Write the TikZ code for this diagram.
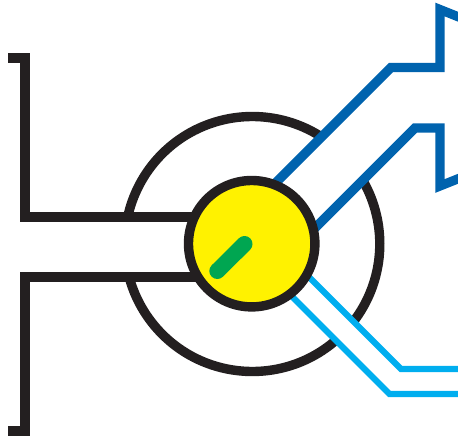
\documentclass[tikz,border=0pt]{standalone}
\definecolor{inkblack}{HTML}{231F20}
\definecolor{deepblue}{HTML}{0063AE}
\definecolor{skyblue}{HTML}{00AEEF}
\definecolor{dotyellow}{HTML}{FFF200}
\definecolor{leafgreen}{HTML}{00A651}
\tikzset{
  blackline/.style={draw=inkblack,line width=9.4pt,miter limit=10},
  blueline/.style={draw=deepblue,line width=9.2pt,miter limit=10},
  skyline/.style={draw=skyblue,line width=6.2pt,miter limit=10},
  hub/.style={draw=inkblack,fill=dotyellow,line width=9.4pt},
  pointer/.style={draw=leafgreen,line width=16pt,line cap=round}
}
\begin{document}
\begin{tikzpicture}[x=1pt,y=-1pt]
\useasboundingbox (0,0) rectangle (458,441);
\clip (0,0) rectangle (458,441);
\coordinate (c) at (252.3,244);
% big ring, broken where the outlines cross it
\draw[blackline] (c) ++(-167.7:127.5) arc[start angle=-167.7,end angle=-57,radius=127.5];
\draw[blackline] (c) ++(-30:127.5) arc[start angle=-30,end angle=38,radius=127.5];
\draw[blackline] (c) ++(49.5:127.5) arc[start angle=49.5,end angle=164.9,radius=127.5];
% left bracket
\draw[blackline] (8,58) -- (25,58) -- (25,217) -- (200,217);
\draw[blackline] (8,431) -- (25,431) -- (25,277) -- (200,277);
% dark blue outline
\draw[blueline] (260,198.5) -- (391,67.5) -- (440,67.5) -- (440,9.5) -- (470,21.5);
\draw[blueline] (300,243) -- (415,128) -- (440,128) -- (440,186) -- (470,174);
% light blue outline
\draw[skyline] (300,268) -- (401,369) -- (470,369);
\draw[skyline] (285,289.5) -- (389.5,394) -- (470,394);
% hub
\draw[hub] (251.7,243.7) circle[radius=63.2];
\draw[pointer] (244.5,244) -- (217.3,271);
\end{tikzpicture}
\end{document}
